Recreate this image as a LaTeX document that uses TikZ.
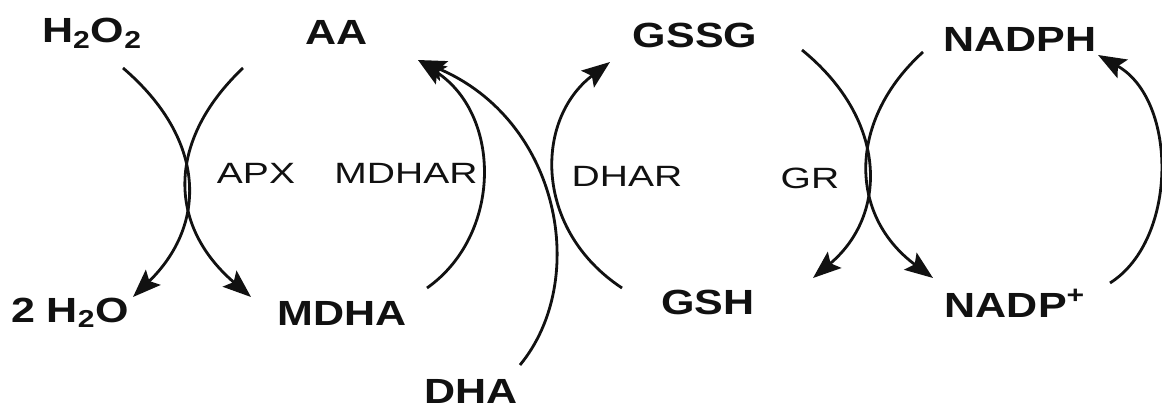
\documentclass[tikz,border=0pt]{standalone}
\usepackage{fontspec}
\setmainfont{Liberation Sans}[FakeStretch=1.33,BoldFeatures={FakeStretch=1.23}]
\usepackage{xcolor}
\usepackage{tikz}
\usetikzlibrary{arrows.meta}
\definecolor{ink}{HTML}{111111}
\tikzset{
  >={Stealth[length=16pt,width=12pt,inset=3pt]},
  metab/.style={anchor=base,inner sep=1pt,text=ink,font=\fontsize{19.9}{22}\selectfont\bfseries},
  enzyme/.style={anchor=base,inner sep=1pt,text=ink,font=\fontsize{16.7}{19}\selectfont},
  rxn/.style={->,line width=1.6pt,draw=ink}
}

\begin{document}
\begin{tikzpicture}[x=0.02cm,y=-0.02cm]
  \useasboundingbox (0,0) rectangle (1162,408);
  % metabolites
  \foreach \x/\y/\id/\txt in {
    92/43/hoo/{H\textsubscript{2}O\textsubscript{2}},
    337/45/aa/{AA},
    70/322/water/{2 H\textsubscript{2}O},
    342/325/mdha/{MDHA},
    471/403/dha/{DHA},
    695/48/gssg/{GSSG},
    708/315/gsh/{GSH},
    1020/52/nadph/{NADPH},
    1015/317/nadp/{NADP\textsuperscript{+}}}
  {
    \node[metab] (\id) at (\x,\y) {\txt};
  }
  % enzymes
  \node[enzyme] (apx) at (256,184) {APX};
  \node[enzyme] (mdhar) at (406,184) {MDHAR};
  \node[enzyme] (dhar) at (627,187) {DHAR};
  \node[enzyme] (gr) at (810,189) {GR};
  % curve ends
  \coordinate (apx-in1) at (123,68);
  \coordinate (apx-out1) at (133,297);
  \coordinate (apx-in2) at (243,68);
  \coordinate (apx-out2) at (251,297);
  \coordinate (mdhar-in) at (427,288);
  \coordinate (aa-tip) at (418,60);
  \coordinate (dha-in) at (520,365);
  \coordinate (dhar-in) at (622,288);
  \coordinate (gssg-tip) at (610,62);
  \coordinate (gr-in1) at (802,50);
  \coordinate (gr-out1) at (813,278);
  \coordinate (gr-in2) at (923,52);
  \coordinate (gr-out2) at (933,278);
  \coordinate (nadp-in) at (1110,283);
  \coordinate (nadph-tip) at (1098,55);
  % ascorbate peroxidase
  \draw[rxn] (apx-in1) .. controls (207,140) and (207,225) .. (apx-out1);
  \draw[rxn] (apx-in2) .. controls (167,140) and (167,225) .. (apx-out2);
  % regeneration of AA
  \draw[rxn] (mdhar-in) .. controls (502,235) and (502,115) .. (aa-tip);
  \draw[rxn] (dha-in) .. controls (590,280) and (560,120) .. (aa-tip);
  \draw[rxn] (dhar-in) .. controls (534,230) and (534,120) .. (gssg-tip);
  % glutathione reductase
  \draw[rxn] (gr-in1) .. controls (888,120) and (888,215) .. (gr-out1);
  \draw[rxn] (gr-in2) .. controls (848,120) and (848,215) .. (gr-out2);
  \draw[rxn] (nadp-in) .. controls (1178,240) and (1178,100) .. (nadph-tip);
\end{tikzpicture}
\end{document}
